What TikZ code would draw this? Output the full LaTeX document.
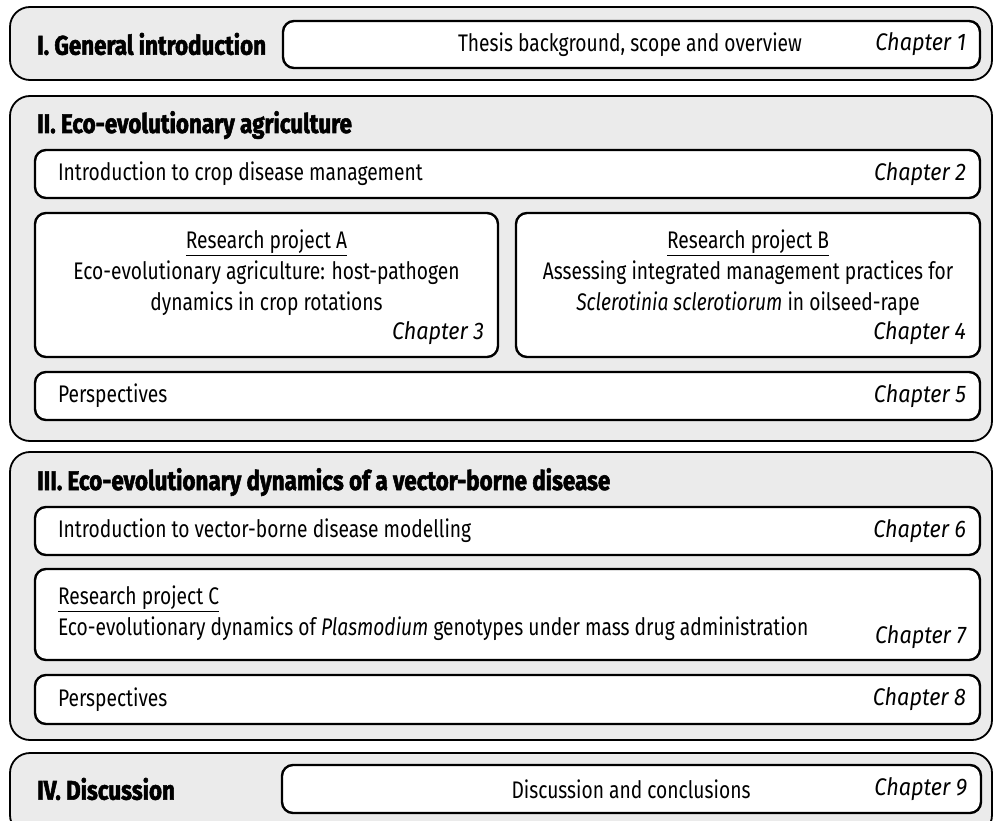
\documentclass[tikz,border=0pt]{standalone}
\usepackage{fontspec}
\setmainfont{Fira Sans}[FakeStretch=0.8]
\newfontfamily\headfont{Fira Sans}[FakeStretch=0.83, BoldFeatures={FakeBold=2}]
\newfontfamily\chapfont{Fira Sans}[FakeStretch=0.9]
\definecolor{secgray}{HTML}{EBEBEB}
\begin{document}
\begin{tikzpicture}[x=1pt, y=-1pt,
    outer/.style = {draw, line width=1.8pt, rounded corners=20pt, fill=secgray, inner sep=0pt},
    inbox/.style = {draw, line width=2.4pt, rounded corners=11pt, fill=white, inner sep=0pt},
    head/.style = {font=\headfont\bfseries\fontsize{27}{30}\selectfont, inner sep=0pt},
    txt/.style = {font=\fontsize{24}{31}\selectfont, inner sep=0pt},
    chap/.style = {font=\chapfont\fontsize{24}{28}\selectfont\itshape, inner sep=0pt}]
\useasboundingbox (0,0) rectangle (993,821);

% sections
\node[outer, minimum width=982pt, minimum height=73pt] (secI) at (501,43.5) {};
\node[outer, minimum width=982pt, minimum height=345pt] (secII) at (501,268.5) {};
\node[outer, minimum width=982pt, minimum height=288pt] (secIII) at (501,596) {};
\node[outer, minimum width=982pt, minimum height=82pt] (secIV) at (501,794) {};

% chapters
\node[inbox, minimum width=697pt, minimum height=47pt] (ch1) at (631.5,44.5) {};
\node[inbox, minimum width=945pt, minimum height=48pt] (ch2) at (507.5,174) {};
\node[inbox, minimum width=463pt, minimum height=144pt] (ch3) at (266.5,285) {};
\node[inbox, minimum width=464pt, minimum height=144pt] (ch4) at (748,285) {};
\node[inbox, minimum width=945pt, minimum height=48pt] (ch5) at (507.5,396) {};
\node[inbox, minimum width=945pt, minimum height=48pt] (ch6) at (507.5,531) {};
\node[inbox, minimum width=945pt, minimum height=91pt] (ch7) at (507.5,614.5) {};
\node[inbox, minimum width=945pt, minimum height=49pt] (ch8) at (507.5,699.5) {};
\node[inbox, minimum width=699pt, minimum height=48pt] (ch9) at (631.5,789) {};

% headings
\node[head, anchor=west] (hI) at (37,44) {I. General introduction};
\node[head, anchor=base west] (hII) at (37,133) {II. Eco-evolutionary agriculture};
\node[head, anchor=base west] (hIII) at (37,490) {III. Eco-evolutionary dynamics of a vector-borne disease};
\node[head, anchor=west] (hIV) at (37,789) {IV. Discussion};

% texts
\node[txt] (t1) at (630,44.5) {Thesis background, scope and overview};
\node[txt, anchor=west] (t2) at ([xshift=24pt]ch2.west) {Introduction to crop disease management};
\node[txt, align=center] (t3) at ([yshift=12pt]ch3.center) {\underline{Research project A}\\Eco-evolutionary agriculture: host-pathogen\\dynamics in crop rotations};
\node[txt, align=center] (t4) at ([yshift=12pt]ch4.center) {\underline{Research project B}\\Assessing integrated management practices for\\\textit{Sclerotinia sclerotiorum} in oilseed-rape};
\node[txt, anchor=west] (t5) at ([xshift=24pt]ch5.west) {Perspectives};
\node[txt, anchor=west] (t6) at ([xshift=24pt]ch6.west) {Introduction to vector-borne disease modelling};
\node[txt, anchor=west, align=left] (t7) at ([xshift=24pt, yshift=1pt]ch7.west) {\underline{Research project C}\\Eco-evolutionary dynamics of \textit{Plasmodium} genotypes under mass drug administration};
\node[txt, anchor=west] (t8) at ([xshift=24pt]ch8.west) {Perspectives};
\node[txt] (t9) at (631,789) {Discussion and conclusions};

% chapter labels
\node[chap, anchor=east] (c1) at ([xshift=-15pt]ch1.east) {Chapter 1};
\node[chap, anchor=east] (c2) at ([xshift=-15pt]ch2.east) {Chapter 2};
\node[chap, anchor=base east] (c3) at ([xshift=-15pt, yshift=19pt]ch3.south east) {Chapter 3};
\node[chap, anchor=base east] (c4) at ([xshift=-15pt, yshift=19pt]ch4.south east) {Chapter 4};
\node[chap, anchor=east] (c5) at ([xshift=-15pt]ch5.east) {Chapter 5};
\node[chap, anchor=east] (c6) at ([xshift=-15pt]ch6.east) {Chapter 6};
\node[chap, anchor=east] (c7) at ([xshift=-15pt, yshift=24pt]ch7.south east) {Chapter 7};
\node[chap, anchor=east] (c8) at ([xshift=-15pt]ch8.east) {Chapter 8};
\node[chap, anchor=east] (c9) at ([xshift=-15pt]ch9.east) {Chapter 9};
\end{tikzpicture}
\end{document}
